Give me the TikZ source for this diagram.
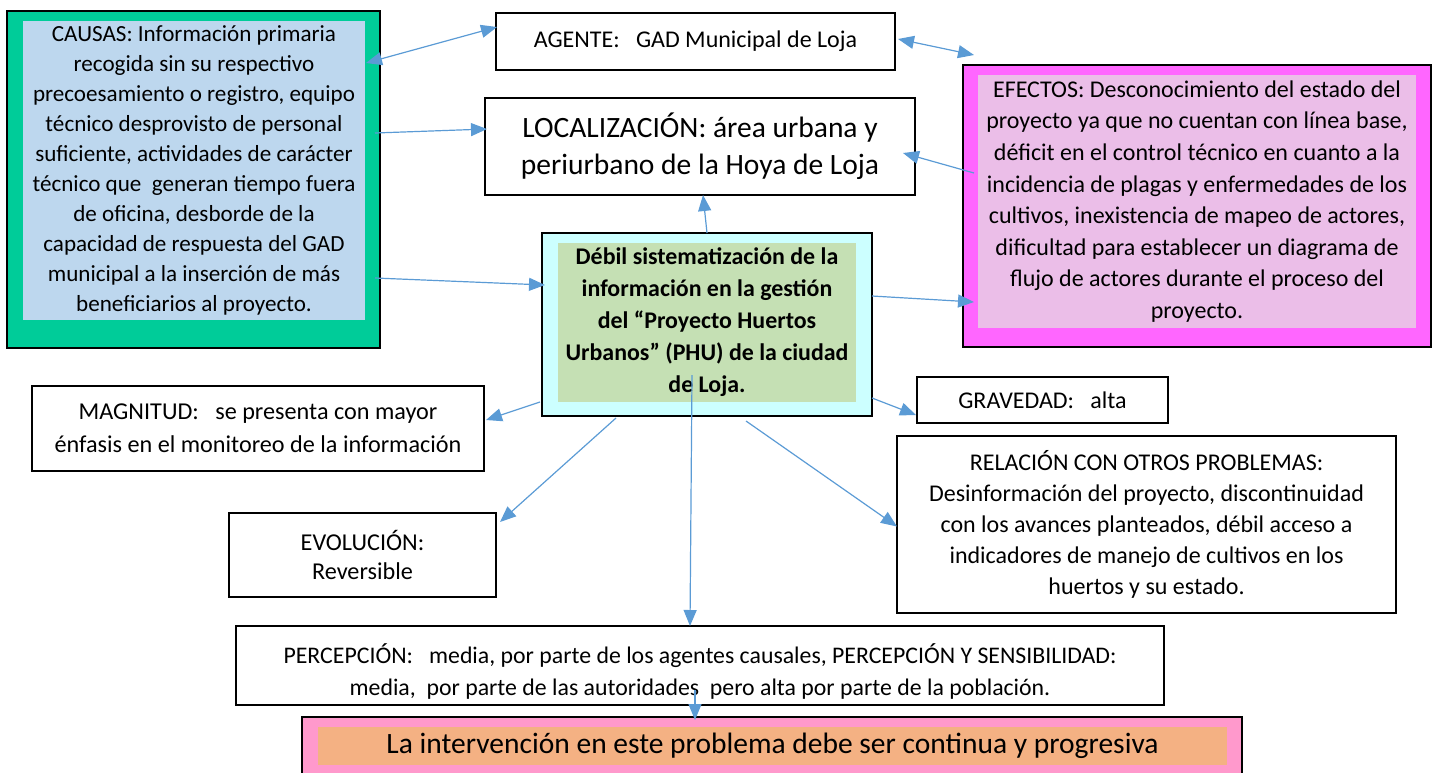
\documentclass[tikz,border=0pt]{standalone}
\usepackage{fontspec}
\setmainfont{Carlito}
\usetikzlibrary{arrows.meta,calc}
\definecolor{causegreen}{HTML}{00CC99}
\definecolor{causeblue}{HTML}{BDD7EE}
\definecolor{effmag}{HTML}{FF66FF}
\definecolor{effpink}{HTML}{EBBEE8}
\definecolor{corecyan}{HTML}{CCFFFF}
\definecolor{coregreen}{HTML}{C5E0B4}
\definecolor{endpink}{HTML}{FF99CC}
\definecolor{endorange}{HTML}{F4B183}
\definecolor{arrowblue}{HTML}{5B9BD5}
\begin{document}
\begin{tikzpicture}[x=1pt,y=-1pt,
  every node/.style={inner sep=0pt,outer sep=0pt},
  frame/.style={draw=black,line width=1.5pt,anchor=north west,align=center},
  panel/.style={anchor=north west,align=center},
  body/.style={font=\fontsize{24}{30}\selectfont},
  link/.style={draw=arrowblue,line width=1.2pt,-{Triangle[length=16pt,width=13pt]}},
  dlink/.style={draw=arrowblue,line width=1.2pt,{Triangle[length=16pt,width=13pt]}-{Triangle[length=16pt,width=13pt]}}]
\useasboundingbox (0,0) rectangle (1438,772);
\clip (0,0) rectangle (1438,772);

% CAUSAS
\node[frame,line width=2pt,fill=causegreen,minimum width=373pt,minimum height=337pt] (causas) at (7,11) {};
\node[panel,fill=causeblue,minimum width=342pt,minimum height=299pt,font=\fontsize{23.1}{30}\selectfont] (causastext) at (23,21)
 {CAUSAS: Información primaria\\recogida sin su respectivo\\precoesamiento o registro, equipo\\técnico desprovisto de personal\\suficiente, actividades de carácter\\técnico que\ \ generan tiempo fuera\\de oficina, desborde de la\\capacidad de respuesta del GAD\\municipal a la inserción de más\\beneficiarios al proyecto.};

% AGENTE
\node[frame,minimum width=399pt,minimum height=57pt,body] (agente) at (496,13) {AGENTE:\ \ \ GAD Municipal de Loja};

% LOCALIZACION
\node[frame,minimum width=430pt,minimum height=97pt,font=\fontsize{29.5}{37}\selectfont] (loc) at (485,98)
 {LOCALIZACIÓN: área urbana y\\periurbano de la Hoya de Loja};

% EFECTOS
\node[frame,line width=2pt,fill=effmag,minimum width=468pt,minimum height=282pt] (efectos) at (963,65) {};
\node[panel,fill=effpink,minimum width=438pt,minimum height=253pt,font=\fontsize{24}{31.6}\selectfont] (efectostext) at (978,75)
 {EFECTOS: Desconocimiento del estado del\\proyecto ya que no cuentan con línea base,\\déficit en el control técnico en cuanto a la\\incidencia de plagas y enfermedades de los\\cultivos, inexistencia de mapeo de actores,\\dificultad para establecer un diagrama de\\flujo de actores durante el proceso del\\proyecto.};

% CORE PROBLEM
\node[frame,line width=2pt,fill=corecyan,minimum width=330pt,minimum height=183pt] (core) at (542,233) {};
\node[panel,fill=coregreen,minimum width=298pt,minimum height=159pt,font=\bfseries\fontsize{23.9}{32}\selectfont] (coretext) at (558,243)
 {Débil sistematización de la\\información en la gestión\\del “Proyecto Huertos\\Urbanos” (PHU) de la ciudad\\de Loja.};

% MAGNITUD
\node[frame,minimum width=452pt,minimum height=85pt,font=\fontsize{24.2}{33}\selectfont] (magnitud) at (32,386)
 {MAGNITUD:\ \ \ se presenta con mayor\\énfasis en el monitoreo de la información};

% EVOLUCION
\node[frame,minimum width=267pt,minimum height=84pt,font=\fontsize{24.2}{29}\selectfont] (evolucion) at (229,513)
 {EVOLUCIÓN:\\Reversible};

% GRAVEDAD
\node[frame,minimum width=251pt,minimum height=46pt,body] (gravedad) at (917,377) {GRAVEDAD:\ \ \ alta};

% RELACION
\node[frame,minimum width=499pt,minimum height=177pt,font=\fontsize{24}{31}\selectfont] (relacion) at (897,436)
 {RELACIÓN CON OTROS PROBLEMAS:\\Desinformación del proyecto, discontinuidad\\con los avances planteados, débil acceso a\\indicadores de manejo de cultivos en los\\huertos y su estado.};

% PERCEPCION
\node[frame,minimum width=928pt,minimum height=79pt] (percepcion) at (236,626) {};
\node[font=\fontsize{23.8}{32}\selectfont,align=center] (perceptext) at (700,671)
 {PERCEPCIÓN:\ \ \ media, por parte de los agentes causales, PERCEPCIÓN Y SENSIBILIDAD:\\media,\ \ por parte de las autoridades\ \ pero alta por parte de la población.};

% FINAL
\node[frame,line width=2pt,fill=endpink,minimum width=940pt,minimum height=80pt] (final) at (302,717) {};
\node[panel,fill=endorange,minimum width=909pt,minimum height=38pt,font=\fontsize{29.5}{36}\selectfont] (finaltext) at (318,727)
 {La intervención en este problema debe ser continua y progresiva};

% CONNECTORS
\draw[dlink] ($(causastext.north east)+(1,42)$) -- ($(agente.north west)+(1,14)$);
\draw[dlink] ($(agente.north east)+(3,26)$) -- ($(efectos.north west)+(11,-10)$);
\draw[link] ($(causastext.north east)+(10,112)$) -- ($(loc.north west)+(2,31)$);
\draw[link] ($(causastext.north east)+(10,257)$) -- ($(core.north west)+(3,52)$);
\draw[link] (core.north) -- ($(loc.south)+(3,0)$);
\draw[link] ($(efectos.north west)+(11,108)$) -- ($(loc.north east)+(-12,55)$);
\draw[link] ($(core.north east)+(0,63)$) -- ($(efectos.north west)+(11,237)$);
\draw[link] ($(core.south east)+(0,-18)$) -- ($(gravedad.south west)+(-1,-8)$);
\draw[link] ($(core.south)+(39,5)$) -- ($(relacion.west)+(0,2)$);
\draw[link] ($(core.south west)+(-2,-14)$) -- ($(magnitud.north east)+(2,34)$);
\draw[link] ($(core.south west)+(74,2)$) -- ($(evolucion.north east)+(4,9)$);
\draw[link] ($(core.south)+(-15,-41)$) -- ($(percepcion.north)+(-10,0)$);
\draw[link] ($(percepcion.south)+(-5,-15)$) -- ($(final.north)+(-77,3)$);
\end{tikzpicture}
\end{document}
